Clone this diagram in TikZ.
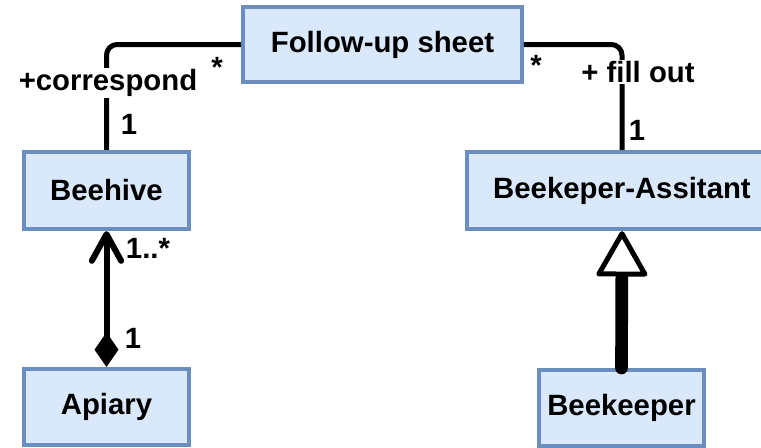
\documentclass[tikz,border=0pt]{standalone}
\usepackage{fontspec}
\setmainfont{Liberation Sans}
\usetikzlibrary{arrows.meta}
\definecolor{classfill}{HTML}{DAE8FC}
\definecolor{classline}{HTML}{6C8EBF}

\begin{document}
\begin{tikzpicture}[x=0.75pt, y=-0.75pt,
    font=\fontsize{22}{26}\selectfont\bfseries,
    umlclass/.style={draw=classline, fill=classfill, line width=3pt, inner sep=0pt},
    assoc/.style={line width=3.75pt, rounded corners=8pt},
    role/.style={fill=white, inner sep=1pt},
    mult/.style={inner sep=0pt}]
  \useasboundingbox (0,0) rectangle (761,447);

  % classes
  \node[umlclass, minimum width=209pt, minimum height=56pt] (sheet) at (382.5,44.5) {Follow-up sheet};
  \node[umlclass, minimum width=124pt, minimum height=58pt] (beehive) at (106.5,190.5) {Beehive};
  \node[umlclass, minimum width=232.5pt, minimum height=58pt] (assistant) at (622,190.5) {Beekeper-Assitant};
  \node[umlclass, minimum width=124pt, minimum height=57pt] (apiary) at (106.5,407) {Apiary};
  \node[umlclass, minimum width=124pt, minimum height=57pt] (keeper) at (621.5,408) {Beekeeper};

  % associations with the sheet
  \draw[assoc] (sheet.west) -| (beehive.north);
  \draw[assoc] (sheet.east) -| (assistant.north);
  \node[role] (correspond) at (108,83) {+correspond};
  \node[role] (fillout) at (638,72) {+ fill out};
  \node[mult] (msheetl) at (217,67) {*};
  \node[mult] (msheetr) at (536,65) {*};
  \node[mult] (mhive) at (129,124) {1};
  \node[mult] (massist) at (637,130) {1};

  % composition
  \draw[line width=4.5pt, {Diamond[length=26pt, width=18pt]}-{Straight Barb[length=20pt, width=22pt, round]}]
    (apiary.north) -- (beehive.south);
  \node[mult] (mmany) at (148,248) {1..*};
  \node[mult] (mone) at (133,338) {1};

  % generalization
  \draw[line width=9.5pt, line cap=round,
    -{Triangle[open, fill=white, length=36pt, width=40pt, line width=3.75pt, round]}]
    (keeper.north) -- (assistant.south);
\end{tikzpicture}
\end{document}
